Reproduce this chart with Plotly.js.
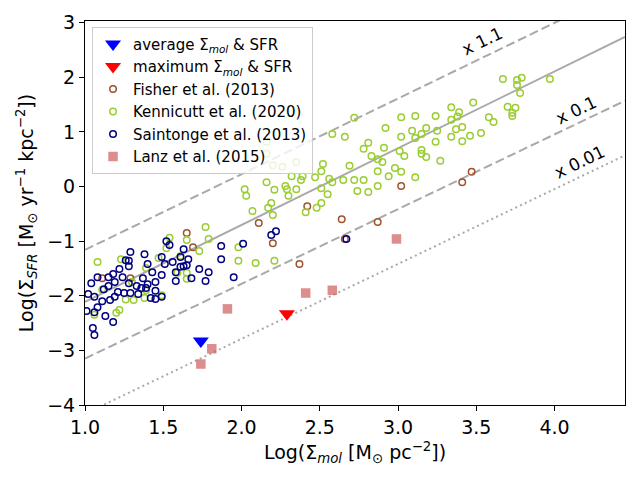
<!DOCTYPE html>
<html>
<head>
<meta charset="utf-8">
<script src="https://cdn.plot.ly/plotly-3.0.1.min.js"></script>
<style>html,body{margin:0;padding:0;background:#fff;}#chart{width:640px;height:480px;}</style>
</head>
<body>
<div id="chart"></div>
<script>
// Kennicutt et al. (2020)
const kenX = [3.67,3.76,3.79,3.76,3.78,3.97,3.34,3.39,3.38,3.48,3.34,3.37,3.41,3.34,3.41,3.46,3.53,3.58,3.61,3.70,3.75,3.73,3.73,
3.02,3.11,3.24,2.92,3.09,3.15,3.18,3.25,3.02,3.11,3.24,2.91,3.01,3.15,3.15,3.04,3.18,3.27,2.87,2.90,2.87,2.98,3.02,2.94,3.11,2.87,
2.72,2.58,2.66,2.81,2.78,2.83,2.52,2.69,2.51,2.20,2.26,2.35,2.32,2.39,2.38,2.47,2.56,2.58,2.65,2.72,2.78,2.21,2.28,2.29,2.35,2.51,2.74,2.81,2.55,2.30,2.51,2.48,2.41,2.19,2.20,
2.16,2.16,2.16,
2.03,2.07,2.17,1.77,1.79,1.65,1.73,1.98,1.98,2.09,2.21,1.65,
1.54,1.47,1.39,1.61,1.59,1.65,1.39,1.49,1.38,
1.08,1.23,1.11,1.26,1.31,1.20,1.22,1.06,1.30,
2.02,1.52];
const kenY = [1.97,1.95,1.99,1.86,1.71,1.97,1.45,1.36,1.28,1.54,1.22,1.05,1.09,0.91,0.83,0.93,0.98,1.27,1.18,1.46,1.44,1.35,1.29,
1.27,1.29,1.29,1.07,1.02,0.96,1.07,1.02,0.91,0.89,0.82,0.71,0.65,0.67,0.60,0.56,0.54,0.47,0.50,0.45,0.28,0.34,0.27,0.19,0.17,0.01,
1.26,0.96,0.91,0.80,0.69,0.56,0.41,0.38,0.28,0.39,0.36,0.45,0.19,0.19,0.12,0.17,0.14,0.08,0.12,0.12,0.12,-0.06,0.01,-0.05,-0.05,-0.03,-0.08,-0.10,-0.14,-0.17,-0.30,-0.39,-0.47,-0.30,-0.52,
0.82,0.60,0.08,
-0.17,-0.45,-0.39,-0.74,-0.96,-0.98,-1.18,-1.11,-1.36,-1.40,-1.36,-1.58,
-0.94,-1.31,-1.49,-1.27,-1.58,-1.69,-1.90,-1.99,-2.04,
-1.38,-1.33,-1.89,-2.07,-2.08,-2.31,-2.26,-2.35,-1.75,
-0.05,-1.13];

// Fisher et al. (2013)
const fisX = [3.47,3.41,3.02,2.42,2.64,2.20,2.66,2.87,2.11,2.37,1.65,1.69,1.11,1.29];
const fisY = [0.27,0.08,0.01,-0.36,-0.60,-1.04,-0.96,-0.65,-0.67,-1.42,-0.85,-1.11,-1.68,-1.68];

// Saintonge et al. (2013)
const saiX = [2.67,2.22,2.19,2.01,1.87,1.87,1.73,1.79,1.77,1.95,1.63,1.61,1.66,1.65,1.63,1.68,
1.52,1.54,1.38,1.49,1.56,1.51,1.40,1.61,1.43,1.49,1.58,1.37,1.40,1.45,1.58,1.36,1.39,1.45,1.42,1.45,1.49,
1.29,1.26,1.28,1.28,1.22,1.18,1.08,1.15,1.04,1.24,1.19,1.15,1.28,1.33,1.12,1.02,1.21,1.25,1.29,1.34,1.06,1.19,1.11,1.16,1.08,1.01,1.06,1.13,1.18,1.05,1.06];
const saiY = [-0.96,-0.82,-0.89,-1.05,-1.09,-1.33,-1.51,-1.57,-1.73,-1.66,-1.15,-1.29,-1.33,-1.44,-1.46,-1.68,
-1.00,-1.07,-1.24,-1.29,-1.38,-1.42,-1.42,-1.47,-1.57,-1.62,-1.57,-1.68,-1.79,-1.75,-1.73,-1.86,-1.86,-1.91,-2.04,-2.06,-2.02,
-1.20,-1.35,-1.36,-1.46,-1.51,-1.60,-1.66,-1.66,-1.77,-1.66,-1.75,-1.82,-1.77,-1.82,-1.88,-1.97,-1.93,-1.95,-1.95,-1.97,-2.02,-2.02,-2.10,-2.08,-2.21,-2.28,-2.30,-2.37,-2.48,-2.59,-2.72];

// Lanz et al. (2015)
const lanX = [1.74,1.81,1.91,2.41,2.58,2.99];
const lanY = [-3.25,-2.97,-2.24,-1.95,-1.90,-0.96];

// average / maximum
const avgX = [1.74], avgY = [-2.83];
const maxX = [2.29], maxY = [-2.33];

// reference lines (endpoints)
const lineX = [1.0, 4.45];
const solidY = [-2.11, 2.74];
const dash11Y = [-1.16, 3.62];
const dash01Y = [-3.15, 1.57];
const dot001Y = [-4.16, 0.57];

// line labels
const labelText = ['x 1.1', 'x 0.1', 'x 0.01'];
const labelX = [3.54, 4.14, 4.16];
const labelY = [2.66, 1.40, 0.45];

const grey = '#a9a9a9';
const font = 'DejaVu Sans, sans-serif';

const traces = [
  {x: lineX, y: solidY, mode: 'lines', line: {color: grey, width: 2}, showlegend: false, hoverinfo: 'skip'},
  {x: lineX, y: dash11Y, mode: 'lines', line: {color: grey, width: 2, dash: '9px,4px'}, showlegend: false, hoverinfo: 'skip'},
  {x: lineX, y: dash01Y, mode: 'lines', line: {color: grey, width: 2, dash: '9px,4px'}, showlegend: false, hoverinfo: 'skip'},
  {x: lineX, y: dot001Y, mode: 'lines', line: {color: grey, width: 2, dash: '2px,3.3px'}, showlegend: false, hoverinfo: 'skip'},
  {x: avgX, y: avgY, mode: 'markers', name: 'average Σ<sub><i>mol</i></sub> &amp; SFR',
   marker: {symbol: 'triangle-down', size: 14, color: '#0000ff'}},
  {x: maxX, y: maxY, mode: 'markers', name: 'maximum Σ<sub><i>mol</i></sub> &amp; SFR',
   marker: {symbol: 'triangle-down', size: 14, color: '#ff0000'}},
  {x: fisX, y: fisY, mode: 'markers', name: 'Fisher et al. (2013)',
   marker: {symbol: 'circle-open', size: 6.5, color: '#a0522d', line: {width: 1.5}}},
  {x: kenX, y: kenY, mode: 'markers', name: 'Kennicutt et al. (2020)',
   marker: {symbol: 'circle-open', size: 6.5, color: '#9acd32', line: {width: 1.5}}},
  {x: saiX, y: saiY, mode: 'markers', name: 'Saintonge et al. (2013)',
   marker: {symbol: 'circle-open', size: 6.5, color: '#000080', line: {width: 1.5}}},
  {x: lanX, y: lanY, mode: 'markers', name: 'Lanz et al. (2015)',
   marker: {symbol: 'square', size: 9.5, color: '#cd5c5c', opacity: 0.7}}
];

const annotations = labelText.map((t, i) => ({
  x: labelX[i], y: labelY[i], xref: 'x', yref: 'y', text: t, showarrow: false,
  textangle: -26, font: {family: font, size: 17, color: '#000'}
}));

const layout = {
  width: 640, height: 480,
  margin: {l: 85, r: 15, t: 21, b: 75},
  paper_bgcolor: '#fff', plot_bgcolor: '#fff',
  font: {family: font, color: '#000'},
  showlegend: true,
  legend: {
    x: 0.013, y: 0.985, xanchor: 'left', yanchor: 'top',
    bgcolor: 'rgba(255,255,255,0.8)', bordercolor: '#cccccc', borderwidth: 1,
    font: {family: font, size: 15, color: '#000'}
  },
  xaxis: {
    range: [1, 4.45], tickvals: [1.0, 1.5, 2.0, 2.5, 3.0, 3.5, 4.0],
    ticktext: ['1.0','1.5','2.0','2.5','3.0','3.5','4.0'],
    ticks: 'outside', ticklen: 5, tickwidth: 1, tickcolor: '#000',
    showline: true, linecolor: '#000', linewidth: 1, mirror: true,
    showgrid: false, zeroline: false,
    tickfont: {family: font, size: 19},
    title: {text: 'Log(Σ<sub><i>mol</i></sub> [M<sub>⊙</sub> pc<sup>−2</sup>])', font: {family: font, size: 19}, standoff: 8}
  },
  yaxis: {
    range: [-4, 3.03], tickvals: [-4,-3,-2,-1,0,1,2,3],
    ticktext: ['−4','−3','−2','−1','0','1','2','3'],
    ticks: 'outside', ticklen: 5, tickwidth: 1, tickcolor: '#000',
    showline: true, linecolor: '#000', linewidth: 1, mirror: true,
    showgrid: false, zeroline: false,
    tickfont: {family: font, size: 19},
    title: {text: 'Log(Σ<sub><i>SFR</i></sub> [M<sub>⊙</sub> yr<sup>−1</sup> kpc<sup>−2</sup>])', font: {family: font, size: 19}, standoff: 8}
  },
  annotations: annotations
};

Plotly.newPlot('chart', traces, layout, {displayModeBar: false, staticPlot: true});
</script>
</body>
</html>
